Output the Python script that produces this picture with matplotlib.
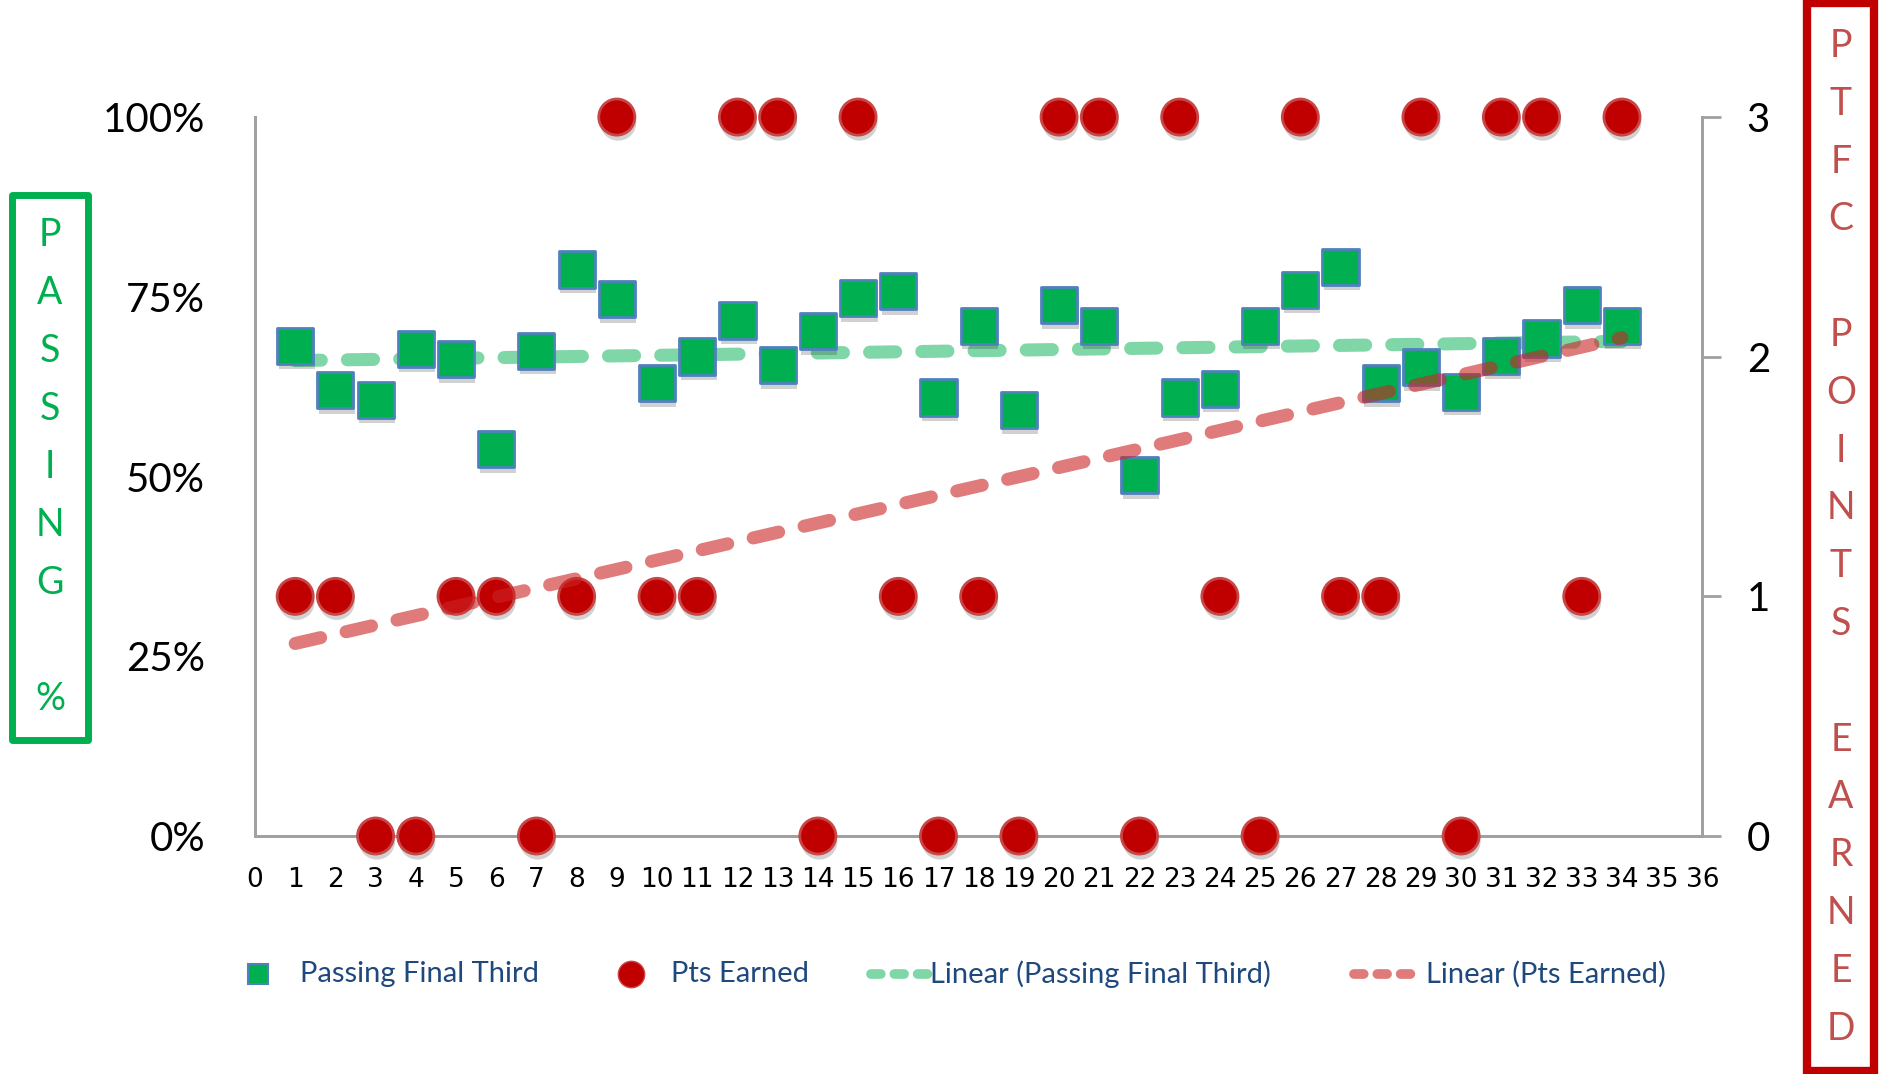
import numpy as np
import matplotlib
matplotlib.use("Agg")
from matplotlib import pyplot as plt
from matplotlib.lines import Line2D
from matplotlib.patches import Rectangle
import matplotlib.patheffects as pe

# game number, passing in final third (%), points earned
games = np.arange(1, 35)
passing = [68.2, 62.0, 60.7, 67.8, 66.3, 53.8, 67.5, 78.8, 74.7, 63.0, 66.7, 71.7,
           65.5, 70.2, 74.8, 75.8, 61.0, 71.0, 59.2, 73.8, 71.0, 50.2, 61.0, 62.2,
           71.0, 76.0, 79.2, 63.0, 65.2, 61.8, 66.8, 69.2, 73.8, 71.0]
points = [1, 1, 0, 0, 1, 1, 0, 1, 3, 1, 1, 3, 3, 0, 3, 1, 0, 1, 0, 3, 3, 0, 3, 1,
          0, 3, 1, 1, 3, 0, 3, 3, 1, 3]

left_ticks = [0, 25, 50, 75, 100]
right_ticks = [0, 1, 2, 3]
x_ticks = list(range(0, 37))
legend_labels = ["Passing Final Third", "Pts Earned",
                 "Linear (Passing Final Third)", "Linear (Pts Earned)"]

GREEN = "#00B050"
RED = "#C00000"
TREND_RED = (0.80, 0.14, 0.14)
NAVY = "#1F497D"
FONT = ["Lato", "DejaVu Sans"]
NARROW = ["Liberation Sans Narrow", "DejaVu Sans"]
W, H = 1879, 1074

fig = plt.figure(figsize=(W / 100, H / 100), dpi=100)
ax = fig.add_axes([0.1357, 0.2216, 0.7703, 0.6694])
ax2 = ax.twinx()

shadow = [pe.SimplePatchShadow(offset=(1, -4), shadow_rgbFace="#000000", alpha=0.18), pe.Normal()]

pass_frac = np.array(passing) / 100
ax.scatter(games, pass_frac, marker="s", s=26 ** 2, color=GREEN, edgecolors="#4F81BD",
           linewidths=2, zorder=3, path_effects=shadow)
ax2.scatter(games, points, marker="o", s=26 ** 2, color=RED, edgecolors="#C84646",
            linewidths=2, zorder=3, path_effects=shadow, clip_on=False)

# linear trend lines
fit_p = np.polyfit(games, pass_frac, 1)
fit_pts = np.polyfit(games, points, 1)
xs = np.array([games[0], games[-1]])
ax.plot(xs, np.polyval(fit_p, xs), color=GREEN, alpha=0.5, lw=9.4, ls=(0, (2, 2)),
        dash_capstyle="round", zorder=2)
ax2.plot(xs, np.polyval(fit_pts, xs), color=TREND_RED, alpha=0.6, lw=9.4, ls=(0, (2, 2)),
         dash_capstyle="round", zorder=4)

ax.set_xlim(0, 36)
ax.set_ylim(0, 1)
ax2.set_ylim(0, 3)
ax.set_xticks(x_ticks)
ax.set_xticklabels([str(v) for v in x_ticks], family=NARROW, fontsize=19)
ax.set_yticks([v / 100 for v in left_ticks])
ax.set_yticklabels([f"{v}%" for v in left_ticks], family=FONT, fontsize=29)
ax2.set_yticks(right_ticks)
ax2.set_yticklabels([str(v) for v in right_ticks], family=FONT, fontsize=29)

ax.tick_params(axis="x", length=0, pad=22)
ax.tick_params(axis="y", length=0, pad=36)
ax2.tick_params(axis="y", length=14, width=2, color="#A0A0A0", pad=18)

for a in (ax, ax2):
    a.spines["top"].set_visible(False)
    for s in ("left", "right", "bottom"):
        a.spines[s].set_color("#A0A0A0")
        a.spines[s].set_linewidth(2)

# legend, laid out by hand in pixel positions
ly = 1 - 974 / H
fig.add_artist(Line2D([258 / W], [ly], ls="none", marker="s", markersize=15,
                      markerfacecolor=GREEN, markeredgecolor="#4F81BD", markeredgewidth=1.5,
                      transform=fig.transFigure))
fig.add_artist(Line2D([631 / W], [ly], ls="none", marker="o", markersize=19,
                      markerfacecolor=RED, markeredgecolor="#C84646", markeredgewidth=1,
                      transform=fig.transFigure))
fig.add_artist(Line2D([871 / W, 929 / W], [ly, ly], color=GREEN, alpha=0.5, lw=7,
                      ls=(0, (1.0, 1.4)), dash_capstyle="round", transform=fig.transFigure))
fig.add_artist(Line2D([1354 / W, 1422 / W], [ly, ly], color=TREND_RED, alpha=0.6, lw=7,
                      ls=(0, (1.0, 1.4)), dash_capstyle="round", transform=fig.transFigure))
for x0, lab in zip([300, 671, 930, 1426], legend_labels):
    fig.text(x0 / W, ly, lab, color=NAVY, family=FONT, fontsize=21, ha="left", va="center")

# side titles in boxes
fig.patches.append(Rectangle((12 / W, 1 - 740 / H), 76 / W, 545 / H, transform=fig.transFigure,
                             fill=False, edgecolor=GREEN, linewidth=5, joinstyle="round"))
for i, ch in enumerate("PASSING %"):
    fig.text(50 / W, 1 - (235 + i * 58) / H, ch, color=GREEN, family=FONT, fontsize=27,
             ha="center", va="center")

fig.patches.append(Rectangle((1807 / W, 3 / H), 67 / W, 1068 / H, transform=fig.transFigure,
                             fill=False, edgecolor=RED, linewidth=6))
for i, ch in enumerate("PTFC POINTS EARNED"):
    fig.text(1841 / W, 1 - (46 + i * 57.8) / H, ch, color="#C0504D", family=FONT, fontsize=27,
             ha="center", va="center")

fig.savefig("out.png", dpi=100)
